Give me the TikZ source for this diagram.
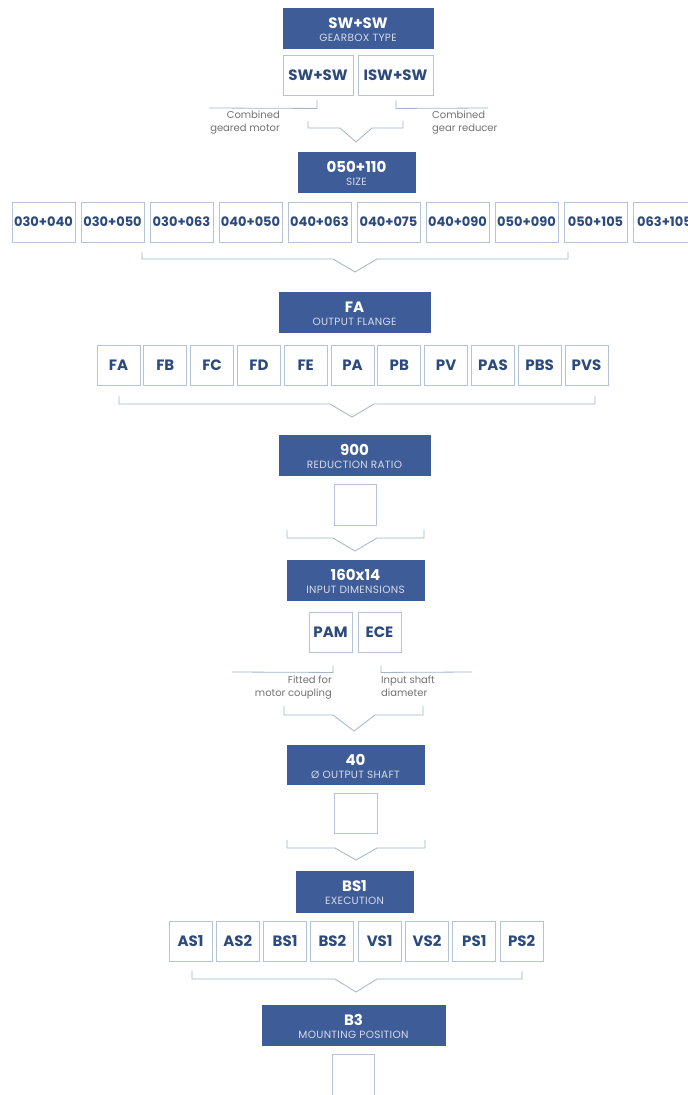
\documentclass[tikz,border=0pt]{standalone}
\usepackage{fontspec}
\setmainfont{Poppins}
\usetikzlibrary{calc}
\definecolor{hdr}{HTML}{3E5C97}
\definecolor{hdrsub}{HTML}{D5DCEA}
\definecolor{bxline}{HTML}{B4C3D7}
\definecolor{bxtext}{HTML}{2D4A7D}
\definecolor{conn}{HTML}{A3B4CB}
\definecolor{anntext}{HTML}{737373}
\newcommand\hdrtxt[2]{{\fontsize{15}{15}\selectfont\bfseries #1}\\[1pt]{\fontsize{10.5}{10}\selectfont\addfontfeature{LetterSpace=3}\color{hdrsub}#2}}
\newcommand\brk[7]{% xl xr ytop ybar xc yapex half
  \draw[connline] (#1,#3) -- (#1,#4) -- ({#5-#7},#4) -- (#5,#6) -- ({#5+#7},#4) -- (#2,#4) -- (#2,#3);}
\begin{document}
\begin{tikzpicture}[x=1pt,y=-1pt,
  hdrbox/.style={fill=hdr, draw=hdr, inner sep=0pt, minimum height=40pt},
  hdrlbl/.style={text=white, align=center, inner sep=0pt},
  optbox/.style={draw=bxline, line width=0.9pt, fill=white, text=bxtext, inner sep=0pt, minimum height=40pt,
     font=\fontsize{15}{15}\selectfont\bfseries},
  sizebox/.style={optbox, minimum width=63pt, font=\fontsize{13}{13}\selectfont\bfseries},
  connline/.style={draw=conn, line width=0.8pt},
  anntxt/.style={text=anntext, font=\fontsize{10}{12.5}\selectfont, inner sep=0pt}]
\clip (0,0) rectangle (688,1095);
\fill[white] (0,0) rectangle (688,1095);

% 1 gearbox type
\node[hdrbox, minimum width=150pt] (h1) at (358,28) {};
\node[hdrlbl] (h1t) at ($(h1.center)+(0,1.5)$) {\hdrtxt{SW+SW}{GEARBOX TYPE}};
\node[optbox, minimum width=70pt] (g1) at (318,75) {SW+SW};
\node[optbox, minimum width=75pt] (g2) at (395.5,75) {ISW+SW};
\coordinate (g1a) at ($(g1.south)+(-1,5)$);
\coordinate (g2a) at ($(g2.south)+(0.5,5)$);
\draw[connline] (g1a) -- ++(0,8) -- (209,108);
\draw[connline] (g2a) -- ++(0,8) -- (488,108);
\node[anntxt, anchor=north east, align=right] (n1) at (280,111) {Combined\\geared motor};
\node[anntxt, anchor=north west, align=left] (n2) at (432,111) {Combined\\gear reducer};
\brk{308}{403}{121}{128}{356}{142}{16}

% 2 size
\node[hdrbox, minimum width=117pt] (h2) at (356.5,172) {};
\node[hdrlbl] (h2t) at ($(h2.center)+(0,1.5)$) {\hdrtxt{050+110}{SIZE}};
\foreach \t [count=\i from 0] in {030+040,030+050,030+063,040+050,040+063,040+075,040+090,050+090,050+105,063+105}
  \node[sizebox] (s\i) at ({12+69*\i+31.5},222) {\t};
\brk{142}{568}{252}{259}{355}{272}{22}

% 3 output flange
\node[hdrbox, minimum width=151pt] (h3) at (354.5,312) {};
\node[hdrlbl] (h3t) at ($(h3.center)+(0,1.5)$) {\hdrtxt{FA}{OUTPUT FLANGE}};
\foreach \t [count=\i from 0] in {FA,FB,FC,FD,FE,PA,PB,PV,PAS,PBS,PVS}
  \node[optbox, minimum width=43pt] (f\i) at ({97+46.8*\i+21.5},365.5) {\t};
\brk{119}{595}{396}{404}{352}{417}{22}

% 4 reduction ratio
\node[hdrbox, minimum width=151pt] (h4) at (354.5,455) {};
\node[hdrlbl] (h4t) at ($(h4.center)+(0,1.5)$) {\hdrtxt{900}{REDUCTION RATIO}};
\node[optbox, minimum width=42pt, minimum height=41pt] (r1) at (355,504.5) {};
\brk{287}{424}{530}{538}{355}{551}{22}

% 5 input dimensions
\node[hdrbox, minimum width=137pt] (h5) at (355.5,580) {};
\node[hdrlbl] (h5t) at ($(h5.center)+(0,1.5)$) {\hdrtxt{160x14}{INPUT DIMENSIONS}};
\node[optbox, minimum width=43pt] (i1) at (330.5,632) {PAM};
\node[optbox, minimum width=43pt] (i2) at (379.5,632) {ECE};
\coordinate (i1a) at ($(i1.south)+(2.5,13)$);
\coordinate (i2a) at ($(i2.south)+(1.5,13)$);
\draw[connline] (i1a) -- ++(0,7) -- (232,672);
\draw[connline] (i2a) -- ++(0,7) -- (472,672);
\node[anntxt, anchor=north east, align=right] (n3) at (332,676) {Fitted for\\motor coupling};
\node[anntxt, anchor=north west, align=left] (n4) at (381,676) {Input shaft\\diameter};
\brk{284}{423}{706}{715}{354}{731}{21}

% 6 output shaft
\node[hdrbox, minimum width=137pt, minimum height=39pt] (h6) at (355.5,764.5) {};
\node[hdrlbl] (h6t) at ($(h6.center)+(0,1.5)$) {\hdrtxt{40}{Ø OUTPUT SHAFT}};
\node[optbox, minimum width=43pt] (o1) at (355.5,813) {};
\brk{287}{425}{840}{848}{356}{860}{21}

% 7 execution
\node[hdrbox, minimum width=117pt, minimum height=41pt] (h7) at (354.5,891.5) {};
\node[hdrlbl] (h7t) at ($(h7.center)+(0,1.5)$) {\hdrtxt{BS1}{EXECUTION}};
\foreach \t [count=\i from 0] in {AS1,AS2,BS1,BS2,VS1,VS2,PS1,PS2}
  \node[optbox, minimum width=43pt] (e\i) at ({169+47.3*\i+21.5},941) {\t};
\brk{192}{522}{971}{979}{356}{992}{21}

% 8 mounting position
\node[hdrbox, minimum width=183pt] (h8) at (353.5,1025) {};
\node[hdrlbl] (h8t) at ($(h8.center)+(0,1.5)$) {\hdrtxt{B3}{MOUNTING POSITION}};
\node[optbox, minimum width=42pt, minimum height=42pt] (m1) at (353,1075) {};
\end{tikzpicture}
\end{document}
